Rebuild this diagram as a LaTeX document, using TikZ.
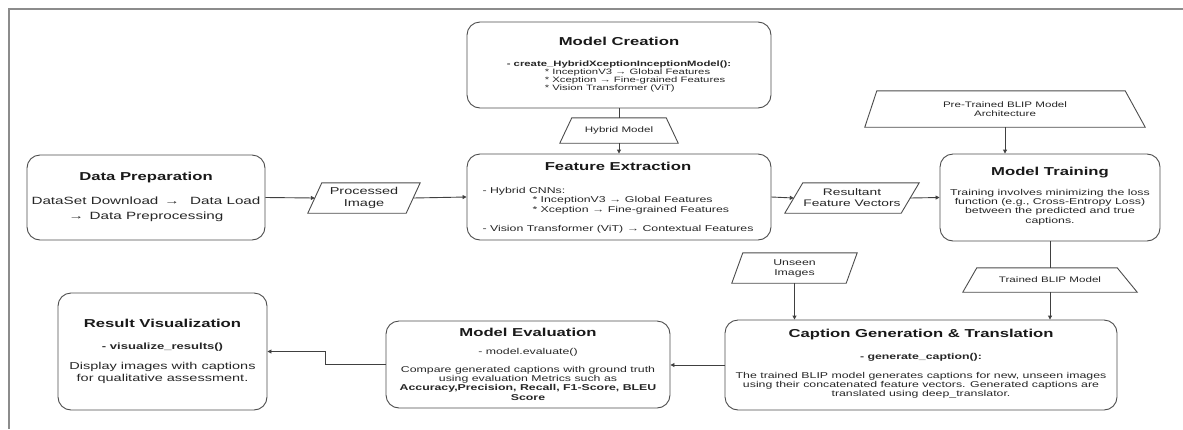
\documentclass[tikz,border=0pt]{standalone}
\usepackage{fontspec}
\setmainfont{Liberation Sans}[FakeStretch=1.45]
\usetikzlibrary{arrows.meta,calc}
\begin{document}
\begin{tikzpicture}[x=1pt,y=-1pt,
 box/.style={draw=black!70, line width=0.9pt, rounded corners=13pt, inner sep=0pt},
 ttl/.style={font=\fontsize{11.5}{13}\selectfont\bfseries, inner sep=0pt, text=black!90},
 bdy/.style={font=\fontsize{8.5}{9.3}\selectfont, inner sep=0pt, align=center, text=black!85},
 iotext/.style={inner sep=0pt, align=center, text=black!85},
 ioline/.style={draw=black!70, line width=0.9pt, line join=miter},
 arr/.style={draw=black!75, line width=0.9pt, -{Triangle[length=4pt,width=4pt]}},
 ln/.style={draw=black!75, line width=0.9pt}]

\path[use as bounding box] (0,0) rectangle (1183,429);
\draw[black!45, line width=1.5pt] (1183,9) -- (9,9) -- (9,429);

% ---------- boxes ----------
\node[box, minimum width=304pt, minimum height=86pt] (mc) at (619,65) {};
\node[box, minimum width=304pt, minimum height=86pt] (fe) at (619,197) {};
\node[box, minimum width=238pt, minimum height=85pt] (dp) at (146,197.5) {};
\node[box, minimum width=220pt, minimum height=87pt] (mt) at (1050,197.5) {};
\node[box, minimum width=392pt, minimum height=90pt] (cg) at (921,365) {};
\node[box, minimum width=284pt, minimum height=87pt] (me) at (528,364.5) {};
\node[box, minimum width=209pt, minimum height=117pt] (rv) at (162.5,351.5) {};

% ---------- data / io shapes (text node spans the bounding box, outline drawn from its anchors) ----------
\node[iotext, font=\fontsize{10}{12}\selectfont, minimum width=112pt, minimum height=30pt] (pi) at (364,198) {Processed\\Image};
\draw[ioline] ([xshift=14pt]pi.north west) -- (pi.north east) -- ([xshift=-14pt]pi.south east) -- (pi.south west) -- cycle;

\node[iotext, font=\fontsize{9.5}{11}\selectfont, minimum width=134pt, minimum height=30pt] (rf) at (852,198) {Resultant\\Feature Vectors};
\draw[ioline] ([xshift=18pt]rf.north west) -- (rf.north east) -- ([xshift=-18pt]rf.south east) -- (rf.south west) -- cycle;

\node[iotext, font=\fontsize{8.5}{10}\selectfont, minimum width=125pt, minimum height=30pt] (ui) at (794.5,268) {Unseen\\Images};
\draw[ioline] ([xshift=11pt]ui.north west) -- (ui.north east) -- ([xshift=-11pt]ui.south east) -- (ui.south west) -- cycle;

\node[iotext, font=\fontsize{8}{9}\selectfont, minimum width=118pt, minimum height=25pt] (hm) at (619,130.5) {Hybrid Model};
\draw[ioline] ([xshift=12pt]hm.north west) -- ([xshift=-12pt]hm.north east) -- (hm.south east) -- (hm.south west) -- cycle;

\node[iotext, font=\fontsize{8}{9.5}\selectfont, minimum width=280pt, minimum height=36pt] (pt) at (1005,109) {Pre-Trained BLIP Model\\Architecture};
\draw[ioline] ([xshift=12pt]pt.north west) -- ([xshift=-20pt]pt.north east) -- (pt.south east) -- (pt.south west) -- cycle;

\node[iotext, font=\fontsize{8}{9}\selectfont, minimum width=174pt, minimum height=24pt] (tb) at (1050,280) {Trained BLIP Model};
\draw[ioline] ([xshift=14pt]tb.north west) -- ([xshift=-20pt]tb.north east) -- (tb.south east) -- (tb.south west) -- cycle;

% ---------- texts ----------
\node[ttl] (mct) at (619,41) {Model Creation};
\node[bdy, align=left, anchor=north, font=\fontsize{7.8}{8}\selectfont] (mcb) at (619,61)
 {\textbf{- create\_HybridXceptionInceptionModel():}\\
  \hspace*{38pt}* InceptionV3 → Global Features\\
  \hspace*{38pt}* Xception → Fine-grained Features\\
  \hspace*{38pt}* Vision Transformer (ViT)};

\node[ttl] (fet) at (618,166) {Feature Extraction};
\node[bdy, align=left, anchor=north, font=\fontsize{8.5}{9.5}\selectfont] (feb) at (618,187)
 {- Hybrid CNNs:\\
  \hspace*{50pt}* InceptionV3 → Global Features\\
  \hspace*{50pt}* Xception → Fine-grained Features\\[10pt]
  - Vision Transformer (ViT) → Contextual Features};

\node[ttl] (dpt) at (146,178) {Data Preparation};
\node[bdy, anchor=north, font=\fontsize{10.5}{15}\selectfont] (dpb) at (146,197)
 {DataSet Download \,→\quad Data Load\\→ \,Data Preprocessing};

\node[ttl] (mtt) at (1050,173) {Model Training};
\node[bdy, anchor=north] (mtb) at (1050,189)
 {Training involves minimizing the loss\\function (e.g., Cross-Entropy Loss)\\between the predicted and true\\captions.};

\node[ttl] (cgt) at (921,335) {Caption Generation \& Translation};
\node[bdy, font=\fontsize{8.5}{9.3}\selectfont\bfseries] (cgf) at (921,357) {- generate\_caption():};
\node[bdy, anchor=north] (cgb) at (921,372)
 {The trained BLIP model generates captions for new, unseen images\\using their concatenated feature vectors. Generated captions are\\translated using deep\_translator.};

\node[ttl] (met) at (528,332) {Model Evaluation};
\node[bdy] (mef) at (528,352) {- model.evaluate()};
\node[bdy, anchor=north] (meb) at (528,366)
 {Compare generated captions with ground truth\\using evaluation Metrics such as\\\textbf{Accuracy,Precision, Recall, F1-Score, BLEU}\\\textbf{Score}};

\node[ttl] (rvt) at (162.5,323) {Result Visualization};
\node[bdy, font=\fontsize{9}{10}\selectfont\bfseries] (rvf) at (162.5,347) {- visualize\_results()};
\node[bdy, anchor=north, font=\fontsize{10}{12.5}\selectfont] (rvb) at (162.5,362)
 {Display images with captions\\for qualitative assessment.};

% ---------- connectors ----------
\draw[ln] (mc.south) -- (hm.north);
\draw[arr] (hm.south) -- (fe.north);
\draw[arr] (dp.east) -- ([xshift=7pt]pi.west);
\draw[arr] ([xshift=-7pt]pi.east) -- (fe.west);
\draw[arr] (fe.east) -- ([xshift=9pt]rf.west);
\draw[arr] ([xshift=-9pt]rf.east) -- (mt.west);
\draw[arr] (pt.south) -- (pt.south |- mt.north);
\draw[ln] (mt.south) -- (tb.north);
\draw[arr] (tb.south) -- (tb.south |- cg.north);
\draw[arr] (ui.south) -- (ui.south |- cg.north);
\draw[arr] (cg.west) -- (cg.west -| me.east);
\coordinate (bend) at (325,364.5);
\draw[arr] (me.west) -- (bend) |- (rv.east);
\end{tikzpicture}
\end{document}
